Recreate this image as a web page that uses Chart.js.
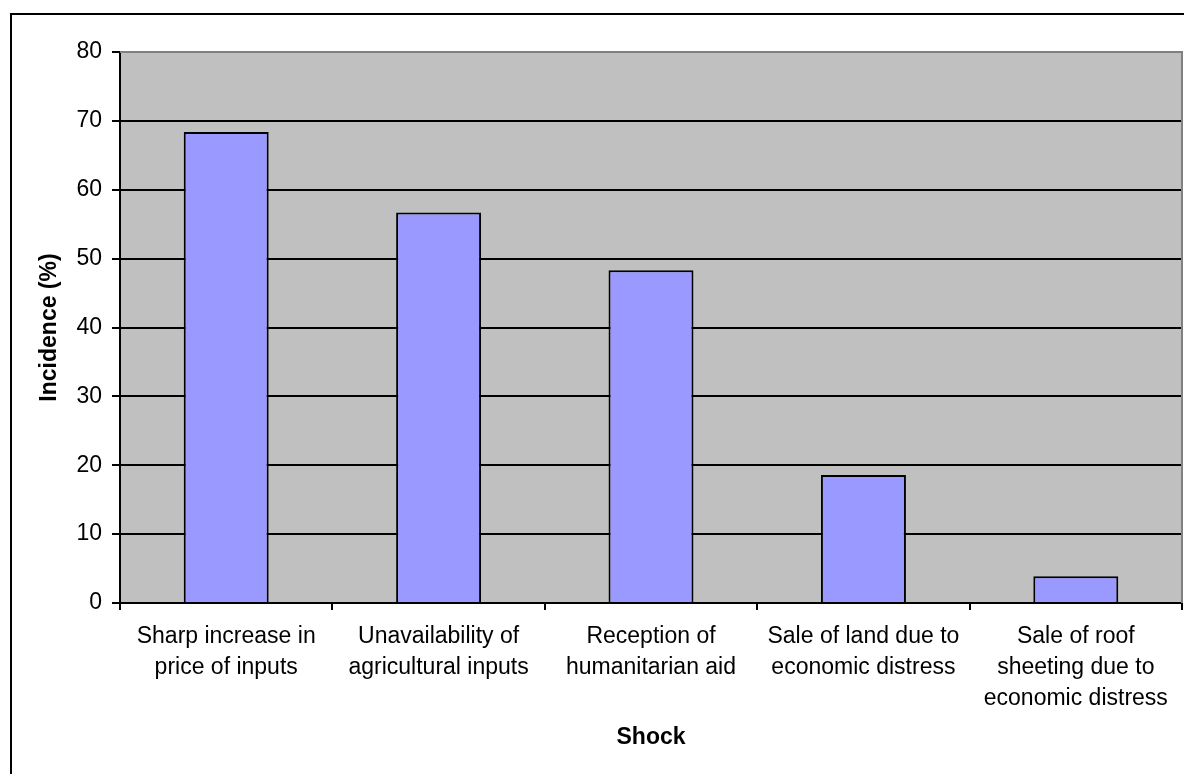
<!DOCTYPE html>
<html>
<head>
<meta charset="utf-8">
<title>Incidence of shocks</title>
<script src="https://cdn.jsdelivr.net/npm/chart.js@4"></script>
<style>
  body { margin: 0; background: #fff; }
  canvas { display: block; }
</style>
</head>
<body>
<canvas id="shockChart" width="1184" height="774"></canvas>
<script>
// data
const shocks = [
    ['Sharp increase in', 'price of inputs'],
    ['Unavailability of', 'agricultural inputs'],
    ['Reception of', 'humanitarian aid'],
    ['Sale of land due to', 'economic distress'],
    ['Sale of roof', 'sheeting due to', 'economic distress']
];
const incidence = [68.4, 56.7, 48.3, 18.6, 3.9];
const yTicks = [0, 10, 20, 30, 40, 50, 60, 70, 80];

const FONT = "'Liberation Sans', Arial, sans-serif";

// grey plot area + outer frame, drawn by hand like in Excel
const plotBg = {
    id: 'plotBg',
    beforeDraw(chart) {
        const ctx = chart.ctx;
        const a = chart.chartArea;
        ctx.save();
        ctx.fillStyle = '#fff';
        ctx.fillRect(0, 0, chart.width, chart.height);
        ctx.strokeStyle = '#000';
        ctx.lineWidth = 2;
        ctx.strokeRect(11, 14, chart.width + 20, chart.height + 20);
        ctx.fillStyle = '#c0c0c0';
        ctx.fillRect(a.left, a.top, a.right - a.left, a.bottom - a.top);
        ctx.restore();
    },
    afterDatasetsDraw(chart) {
        const ctx = chart.ctx;
        const a = chart.chartArea;
        ctx.save();
        ctx.strokeStyle = '#808080';
        ctx.lineWidth = 2;
        ctx.beginPath();
        ctx.moveTo(a.left, a.top);
        ctx.lineTo(a.right, a.top);
        ctx.lineTo(a.right, a.bottom);
        ctx.stroke();
        ctx.restore();
    }
};

new Chart(document.getElementById('shockChart'), {
    type: 'bar',
    data: {
        labels: shocks,
        datasets: [{
            data: incidence,
            backgroundColor: '#9999ff',
            borderColor: '#000',
            borderWidth: 2,
            categoryPercentage: 1,
            barPercentage: 0.4
        }]
    },
    options: {
        responsive: false,
        devicePixelRatio: 1,
        animation: false,
        layout: { padding: { top: 52, right: 2, left: 0, bottom: 0 } },
        plugins: {
            legend: { display: false },
            tooltip: { enabled: false }
        },
        scales: {
            x: {
                afterFit: s => { s.height = 171; },
                grid: {
                    offset: true,
                    drawOnChartArea: false,
                    tickLength: 7,
                    color: '#000',
                    lineWidth: 2
                },
                border: { color: '#000', width: 2 },
                ticks: {
                    color: '#000',
                    padding: 11,
                    maxRotation: 0,
                    autoSkip: false,
                    font: { family: FONT, size: 23, lineHeight: 1.35 }
                },
                title: {
                    display: true,
                    text: 'Shock',
                    color: '#000',
                    padding: { top: 0, bottom: 23 },
                    font: { family: FONT, size: 23, weight: 'bold' }
                }
            },
            y: {
                min: 0,
                max: 80,
                afterFit: s => { s.width = 120; },
                afterBuildTicks: s => { s.ticks = yTicks.map(v => ({ value: v })); },
                grid: {
                    color: c => (c.tick && c.tick.value === 80 ? '#808080' : '#000'),
                    tickColor: '#000',
                    lineWidth: 2,
                    tickLength: 8
                },
                border: { color: '#000', width: 2 },
                ticks: {
                    color: '#000',
                    padding: 10,
                    font: { family: FONT, size: 23 }
                },
                title: {
                    display: true,
                    text: 'Incidence (%)',
                    color: '#000',
                    padding: { top: 36, bottom: 0 },
                    font: { family: FONT, size: 23, weight: 'bold' }
                }
            }
        }
    },
    plugins: [plotBg]
});
</script>
</body>
</html>
